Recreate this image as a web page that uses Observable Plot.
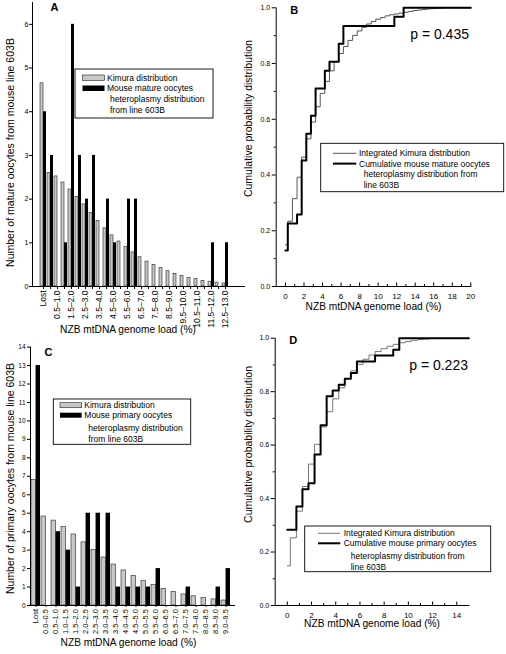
<!DOCTYPE html>
<html><head><meta charset="utf-8">
<script src="https://cdn.jsdelivr.net/npm/d3@7"></script>
<script src="https://cdn.jsdelivr.net/npm/@observablehq/plot@0.6"></script>
<style>
body{margin:0;background:#fff;}
#fig{position:relative;width:506px;height:654px;overflow:hidden;font-family:"Liberation Sans",Arial,sans-serif;}
#fig svg{position:absolute;}
</style></head><body><div id="fig"></div>
<script>
// ---------- Panel A data (mature oocytes) ----------
const catsA = ["Lost","0.0–0.5","0.5–1.0","1.0–1.5","1.5–2.0","2.0–2.5","2.5–3.0","3.0–3.5","3.5–4.0","4.0–4.5","4.5–5.0","5.0–5.5","5.5–6.0","6.0–6.5","6.5–7.0","7.0–7.5","7.5–8.0","8.0–8.5","8.5–9.0","9.0–9.5","9.5–10.0","10.0–10.5","10.5–11.0","11.0–11.5","11.5–12.0","12.0–12.5","12.5–13.0"];
const kimuraA = [4.65,2.6,2.52,2.38,2.22,2.05,1.88,1.68,1.5,1.33,1.17,1.03,0.9,0.78,0.67,0.57,0.49,0.42,0.35,0.29,0.24,0.20,0.17,0.13,0.11,0.09,0.07];
const mouseA = [4,3,0,1,6,3,2,3,0,2,1,0,2,2,0,0,0,0,0,0,0,0,0,0,1,0,1];
const yTicksA = [0,1,2,3,4,5,6];

// ---------- Panel C data (primary oocytes) ----------
const catsC = ["Lost","0.0–0.5","0.5–1.0","1.0–1.5","1.5–2.0","2.0–2.5","2.5–3.0","3.0–3.5","3.5–4.0","4.0–4.5","4.5–5.0","5.0–5.5","5.5–6.0","6.0–6.5","6.5–7.0","7.0–7.5","7.5–8.0","8.0–8.5","8.5–9.0","9.0–9.5"];
const kimuraC = [6.8,4.82,4.6,4.25,3.85,3.42,3.0,2.6,2.22,1.9,1.6,1.32,1.1,0.9,0.73,0.6,0.5,0.4,0.33,0.27];
const mouseC = [13,0,4,3,1,5,5,5,1,1,1,1,2,0,0,1,0,0,1,2];
const yTicksC = [0,1,2,3,4,5,6,7,8,9,10,11,12,13,14];

// ---------- Panel B data (cumulative, mature) ----------
const kimuraCdfBx = [0,0.25,0.75,1.25,1.75,2.25,2.75,3.25,3.75,4.25,4.75,5.25,5.75,6.25,6.75,7.25,7.75,8.25,8.75,9.25,9.75,10.25,10.75,11.25,11.75,12.25,12.75,13.25,13.75,14.25,14.75,15.25,15.75,16.25,16.75,17.25,20];
const kimuraCdfBp = [0.150,0.234,0.315,0.392,0.464,0.530,0.590,0.645,0.693,0.736,0.774,0.807,0.836,0.861,0.883,0.901,0.917,0.930,0.942,0.951,0.959,0.965,0.971,0.975,0.978,0.981,0.984,0.987,0.990,0.992,0.994,0.996,0.997,0.998,0.999,1.0,1.0];
const mouseCdfBx = [0,0.25,1.25,1.75,2.25,2.75,3.25,4.25,4.75,5.75,6.25,11.75,12.75,20];
const mouseCdfBp = [0.129,0.226,0.258,0.452,0.548,0.613,0.710,0.774,0.806,0.871,0.935,0.968,1.0,1.0];
const xTicksB = [0,2,4,6,8,10,12,14,16,18,20];
const xMinorB = [1,3,5,7,9,11,13,15,17,19];

// ---------- Panel D data (cumulative, primary) ----------
const kimuraCdfDx = [0,0.25,0.75,1.25,1.75,2.25,2.75,3.25,3.75,4.25,4.75,5.25,5.75,6.25,6.75,7.25,7.75,8.25,8.75,9.25,9.75,10.25,10.75,11.25,11.75,12.25,15];
const kimuraCdfDp = [0.148,0.253,0.353,0.445,0.529,0.603,0.668,0.725,0.773,0.814,0.849,0.878,0.902,0.921,0.937,0.950,0.961,0.970,0.977,0.983,0.988,0.992,0.995,0.997,0.999,1.0,1.0];
const mouseCdfDx = [0,0.75,1.25,1.75,2.25,2.75,3.25,3.75,4.25,4.75,5.25,5.75,7.25,8.75,9.25,15];
const mouseCdfDp = [0.283,0.370,0.435,0.457,0.565,0.674,0.783,0.804,0.826,0.848,0.870,0.913,0.935,0.957,1.0,1.0];
const xTicksD = [0,2,4,6,8,10,12,14];
const xMinorD = [1,3,5,7,9,11,13];

const yTicksCdf = [0,0.2,0.4,0.6,0.8,1.0];
const yMinorCdf = [0.1,0.3,0.5,0.7,0.9];

// ---------- Texts ----------
const panelLetters = ["A","B","C","D"];
const pValues = ["p = 0.435","p = 0.223"];
const xTitle = "NZB mtDNA genome load (%)";
const yTitleA = "Number of mature oocytes from mouse line 603B";
const yTitleC = "Number of primary oocytes from mouse line 603B";
const yTitleCdf = "Cumulative probability distribution";
const legendA = ["Kimura distribution","Mouse mature oocytes","heteroplasmy distribution","from line 603B"];
const legendC = ["Kimura distribution","Mouse primary oocytes","heteroplasmy distribution","from line 603B"];
const legendB = ["Integrated Kimura distribution","Cumulative mouse mature oocytes","heteroplasmy distribution from","line 603B"];
const legendD = ["Integrated Kimura distribution","Cumulative mouse primary oocytes","heteroplasmy distribution from","line 603B"];

const FONT = '"Liberation Sans", Arial, sans-serif';
const baseStyle = {fontFamily: FONT, fontSize: "8px", background: "none", overflow: "visible", color: "#000"};
const fig = document.getElementById("fig");
function place(svg, left, top) { svg.style.left = left + "px"; svg.style.top = top + "px"; fig.appendChild(svg); }

// ---------- Panel A ----------
const rowsA = catsA.map((c, i) => ({cat: c, kimura: kimuraA[i], mouse: mouseA[i]}));
const plotA = Plot.plot({
  width: 253, height: 340, marginLeft: 32, marginRight: 8, marginTop: 2, marginBottom: 54,
  style: baseStyle,
  x: {type: "band", domain: catsA, range: [32.05, 234.55], paddingInner: 0.2, paddingOuter: 0.1, label: null},
  y: {domain: [0, 6.5], label: null},
  marks: [
    Plot.barY(rowsA, {x: "cat", y: "kimura", fill: "#c8c8c8", stroke: "#222", strokeWidth: 0.6, insetRight: 3}),
    Plot.barY(rowsA, {x: "cat", y: "mouse", fill: "#000", insetLeft: 3}),
    Plot.ruleY([0], {strokeWidth: 1}),
    Plot.frame({anchor: "left"}),
    Plot.axisY({ticks: yTicksA, tickSize: 3, tickPadding: 1, tickFormat: d => String(d), fontSize: 7, label: null}),
    Plot.axisX({ticks: catsA, tickSize: 3, tickFormat: () => "", label: null}),
    Plot.axisX({ticks: catsA.filter((d, i) => i % 2 === 0), tickSize: 0, tickPadding: 4, tickRotate: -90, fontSize: 8.5, label: null}),
    Plot.text([panelLetters[0]], {text: d => d, frameAnchor: "top-left", dx: 18, dy: 1, lineAnchor: "top", fontWeight: "bold", fontSize: 11}),
    Plot.text([yTitleA], {text: d => d, frameAnchor: "left", textAnchor: "middle", rotate: -90, dx: -22, dy: 8, fontSize: 10.5}),
    Plot.text([xTitle], {text: d => d, frameAnchor: "bottom", dx: -11, dy: 46, fontSize: 10.2})
  ]
});
place(plotA, 0, 0);

// ---------- Panel C ----------
const rowsC = catsC.map((c, i) => ({cat: c, kimura: kimuraC[i], mouse: mouseC[i]}));
const plotC = Plot.plot({
  width: 253, height: 329, marginLeft: 30, marginRight: 18, marginTop: 21.6, marginBottom: 49,
  style: baseStyle,
  x: {type: "band", domain: catsC, range: [30.47, 231.5], paddingInner: 0.1, paddingOuter: 0.05, label: null},
  y: {domain: [0, 14], label: null},
  marks: [
    Plot.barY(rowsC, {x: "cat", y: "kimura", fill: "#c8c8c8", stroke: "#222", strokeWidth: 0.6, insetRight: 4.5}),
    Plot.barY(rowsC, {x: "cat", y: "mouse", fill: "#000", insetLeft: 4.55}),
    Plot.ruleY([0], {strokeWidth: 1}),
    Plot.frame({anchor: "left"}),
    Plot.axisY({ticks: yTicksC, tickSize: 3, tickPadding: 2, tickFormat: d => String(d), fontSize: 6.5, label: null}),
    Plot.axisX({ticks: catsC, tickSize: 2, tickPadding: 1.5, tickRotate: -90, fontSize: 7.5, label: null}),
    Plot.text([panelLetters[2]], {text: d => d, frameAnchor: "top-left", dx: 14, dy: 1, lineAnchor: "top", fontWeight: "bold", fontSize: 11}),
    Plot.text([yTitleC], {text: d => d, frameAnchor: "left", textAnchor: "middle", rotate: -90, dx: -20, dy: 2.2, fontSize: 10.5}),
    Plot.text([xTitle], {text: d => d, frameAnchor: "bottom", dx: -4.5, dy: 40.7, fontSize: 10.2})
  ]
});
place(plotC, 0, 325);

// ---------- CDF panels ----------
function cdfPlot({kx, kp, mx, mp, xmax, xTicks, xMinor, letter, pText, left, top, height, mLeft, mRight, mTop, mBottom, kStroke, yTitleDy, yTitleDx, xTitleDy, xTickPad}) {
  const kim = kx.map((x, i) => ({x, p: kp[i]}));
  const mou = mx.map((x, i) => ({x, p: mp[i]}));
  const p = Plot.plot({
    width: 270, height, marginLeft: mLeft, marginRight: mRight, marginTop: mTop, marginBottom: mBottom,
    style: baseStyle,
    x: {domain: [-1, xmax], label: null},
    y: {domain: [0, 1], label: null},
    marks: [
      Plot.line(kim, {x: "x", y: "p", curve: "step-after", stroke: kStroke, strokeWidth: 1}),
      Plot.line(mou, {x: "x", y: "p", curve: "step-after", stroke: "#000", strokeWidth: 2}),
      Plot.frame({anchor: "left"}),
      Plot.frame({anchor: "bottom"}),
      Plot.axisY({ticks: yTicksCdf, tickSize: 4, tickPadding: 2, tickFormat: d => d.toFixed(1), fontSize: 7, label: null}),
      Plot.axisY({ticks: yMinorCdf, tickSize: 2, tickFormat: () => "", label: null}),
      Plot.axisX({ticks: xTicks, tickSize: -3.5, tickFormat: () => "", label: null}),
      Plot.axisX({ticks: xMinor, tickSize: -2, tickFormat: () => "", label: null}),
      Plot.axisX({ticks: xTicks, tickSize: 0, tickPadding: xTickPad, tickFormat: d => String(d), fontSize: 8, label: null}),
      Plot.text([letter], {text: d => d, frameAnchor: "top-left", dx: 14, dy: -2, lineAnchor: "top", fontWeight: "bold", fontSize: 11}),
      Plot.text([pText], {text: d => d, frameAnchor: "top-left", dx: 134, dy: 21.5, fontSize: 14}),
      Plot.text([yTitleCdf], {text: d => d, frameAnchor: "left", textAnchor: "middle", rotate: -90, dx: yTitleDx, dy: yTitleDy, fontSize: 10.5}),
      Plot.text([xTitle], {text: d => d, frameAnchor: "bottom", dy: xTitleDy, fontSize: 10.2})
    ]
  });
  place(p, left, top);
}
cdfPlot({kx: kimuraCdfBx, kp: kimuraCdfBp, mx: mouseCdfBx, mp: mouseCdfBp, xmax: 20, xTicks: xTicksB, xMinor: xMinorB,
  letter: panelLetters[1], pText: pValues[0], left: 236, top: 0, height: 325, mLeft: 39.7, mRight: 35.7, mTop: 7.3, mBottom: 39,
  kStroke: "#555", yTitleDx: -27.7, yTitleDy: -28.6, xTitleDy: 23.3, xTickPad: 7});
cdfPlot({kx: kimuraCdfDx, kp: kimuraCdfDp, mx: mouseCdfDx, mp: mouseCdfDp, xmax: 15, xTicks: xTicksD, xMinor: xMinorD,
  letter: panelLetters[3], pText: pValues[1], left: 236, top: 325, height: 329, mLeft: 38.7, mRight: 37.6, mTop: 12.7, mBottom: 49,
  kStroke: "#777", yTitleDx: -26.2, yTitleDy: -27.4, xTitleDy: 21.7, xTickPad: 6.5});

// ---------- Legends (overlay) ----------
const ov = d3.select(fig).append("svg").attr("width", 506).attr("height", 654)
  .style("left", "0px").style("top", "0px").style("pointer-events", "none")
  .attr("font-family", FONT).attr("font-size", 8.5);

function barLegend(labels, bx, by, bw, bh, sx, sw, sy1, sy2, sh, tx1, tx2, ty) {
  const g = ov.append("g");
  g.append("rect").attr("x", bx).attr("y", by).attr("width", bw).attr("height", bh).attr("fill", "#fff").attr("stroke", "#000").attr("stroke-width", 0.9);
  g.append("rect").attr("x", sx).attr("y", sy1).attr("width", sw).attr("height", sh).attr("fill", "#c8c8c8").attr("stroke", "#222").attr("stroke-width", 0.6);
  g.append("rect").attr("x", sx).attr("y", sy2).attr("width", sw).attr("height", sh).attr("fill", "#000");
  labels.forEach((t, i) => g.append("text").attr("x", i < 2 ? tx1 : tx2).attr("y", ty[i]).attr("dy", "0.35em").text(t));
}
function lineLegend(labels, bx, by, bw, bh, lx1, lx2, ly1, ly2, kStroke, tx1, tx2, ty) {
  const g = ov.append("g");
  g.append("rect").attr("x", bx).attr("y", by).attr("width", bw).attr("height", bh).attr("fill", "#fff").attr("stroke", "#000").attr("stroke-width", 0.9);
  g.append("line").attr("x1", lx1).attr("x2", lx2).attr("y1", ly1).attr("y2", ly1).attr("stroke", kStroke).attr("stroke-width", 1);
  g.append("line").attr("x1", lx1).attr("x2", lx2).attr("y1", ly2).attr("y2", ly2).attr("stroke", "#000").attr("stroke-width", 2);
  labels.forEach((t, i) => g.append("text").attr("x", i < 2 ? tx1 : tx2).attr("y", ty[i]).attr("dy", "0.35em").text(t));
}
barLegend(legendA, 75, 69, 138, 49, 82.5, 22, 75, 85.5, 5.5, 107, 110, [77.6, 88.3, 99.3, 110.2]);
barLegend(legendC, 53.3, 399, 137.4, 45.3, 60, 21.7, 402.7, 412.7, 5, 84.3, 88.3, [405.5, 415, 428.5, 439]);
lineLegend(legendB, 320.7, 143.3, 183, 48.4, 333, 356.3, 153.3, 163.6, "#555", 359, 363.7, [153.3, 163.6, 174.2, 185.2]);
lineLegend(legendD, 304.7, 526, 186, 45.7, 318, 340.3, 533.3, 543.3, "#777", 343.7, 350.7, [533.3, 543.3, 556, 567.3]);
</script></body></html>
